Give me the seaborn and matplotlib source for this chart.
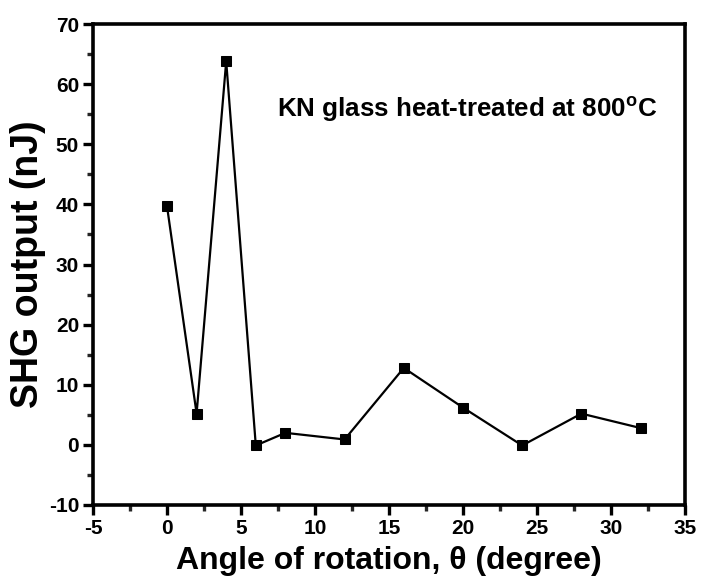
import matplotlib
matplotlib.use("Agg")
import matplotlib.pyplot as plt
from matplotlib.ticker import MultipleLocator
import seaborn as sns
import pandas as pd

angle = [0, 2, 4, 6, 8, 12, 16, 20, 24, 28, 32]
shg = [39.7, 5.2, 63.8, -0.1, 2.0, 0.9, 12.8, 6.2, -0.1, 5.2, 2.8]

x_ticks = [-5, 0, 5, 10, 15, 20, 25, 30, 35]
y_ticks = [-10, 0, 10, 20, 30, 40, 50, 60, 70]

sns.set_theme(style="white")
plt.rcParams["font.family"] = ["Liberation Sans", "DejaVu Sans"]
plt.rcParams["font.weight"] = "bold"
plt.rcParams["axes.unicode_minus"] = False
plt.rcParams["text.color"] = "black"
plt.rcParams["axes.labelcolor"] = "black"
plt.rcParams["mathtext.fontset"] = "custom"
plt.rcParams["mathtext.rm"] = "Liberation Sans:bold"
plt.rcParams["mathtext.bf"] = "Liberation Sans:bold"

df = pd.DataFrame({"angle": angle, "shg": shg})

W, H = 701, 580
left, right, top, bottom = 93, 685, 24, 505
fig = plt.figure(figsize=(W / 100, H / 100), dpi=100)
ax = fig.add_axes([left / W, 1 - bottom / H, (right - left) / W, (bottom - top) / H])

sns.lineplot(data=df, x="angle", y="shg", ax=ax, color="black", linewidth=1.6,
             marker="s", markersize=7.5, markeredgecolor="black",
             markerfacecolor="black")

ax.set_xlim(-5, 35)
ax.set_ylim(-10, 70)
ax.set_xticks(x_ticks)
ax.set_yticks(y_ticks)
ax.xaxis.set_minor_locator(MultipleLocator(2.5))
ax.yaxis.set_minor_locator(MultipleLocator(5))

for s in ax.spines.values():
    s.set_linewidth(2.6)
    s.set_color("black")

ax.tick_params(axis="both", which="major", direction="out", length=7, width=2.4,
               labelsize=15, colors="black", bottom=True, left=True,
               top=False, right=False, pad=3)
ax.tick_params(axis="both", which="minor", direction="out", length=4, width=2.4,
               bottom=True, left=True, top=False, right=False)
for lab in ax.get_xticklabels() + ax.get_yticklabels():
    lab.set_fontweight("bold")

ax.set_xlabel("Angle of rotation, θ (degree)", fontsize=23,
              fontweight="bold", labelpad=6)
ax.set_ylabel("SHG output (nJ)", fontsize=27, fontweight="bold", labelpad=2)

ax.text(7.4, 55.8, r"KN glass heat-treated at 800$^{\mathrm{o}}$C",
        fontsize=18.7, fontweight="bold", va="center", ha="left")

fig.savefig("out.png", dpi=100)
